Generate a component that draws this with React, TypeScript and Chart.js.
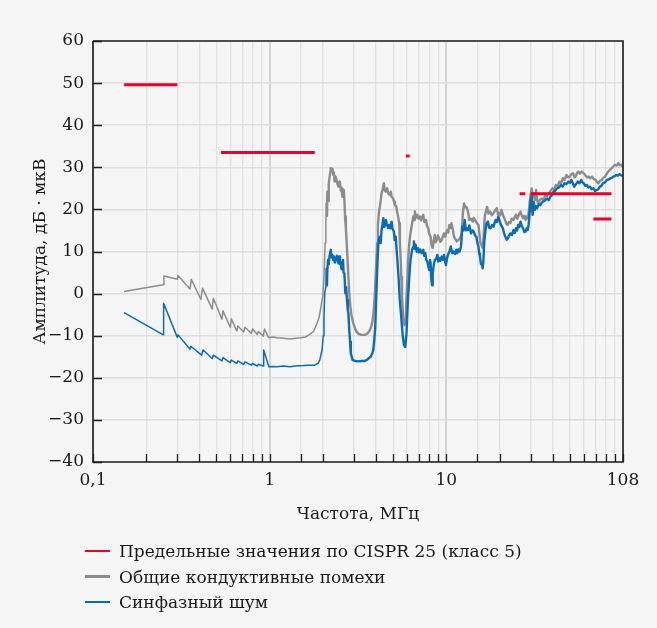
import React, { useEffect, useRef } from "react";
import { Chart, registerables } from "chart.js";

Chart.register(...registerables);

// ---- Data ----
const xTickLabels: Record<string, string> = { "0.1": "0,1", "1": "1", "10": "10", "100": "108" };
const yTicksMin = -40;
const yTicksMax = 60;

const limitStart = [0.15, 0.53, 5.9, 26, 30, 68];
const limitEnd = [0.3, 1.8, 6.2, 28, 86, 86];
const limitLevel = [49.6, 33.5, 32.7, 23.7, 23.7, 17.7];

const grayFreq = [
  0.15, 0.25, 0.252, 0.3, 0.303, 0.354, 0.36, 0.408, 0.417, 0.473, 0.48, 0.537, 0.544, 0.598, 0.607, 0.651, 0.66,
  0.713, 0.725, 0.787, 0.8, 0.851, 0.862, 0.92, 0.935, 0.985, 1.05, 1.1, 1.2, 1.3, 1.4, 1.5, 1.6, 1.69, 1.77, 1.845,
  1.9, 1.945, 2.0, 2.03, 2.06, 2.08, 2.1, 2.11, 2.12, 2.14, 2.16, 2.19, 2.22, 2.25, 2.27, 2.29, 2.31, 2.33, 2.36,
  2.39, 2.42, 2.45, 2.48, 2.5, 2.53, 2.55, 2.58, 2.6, 2.63, 2.65, 2.67, 2.7, 2.73, 2.76, 2.79, 2.82, 2.85, 2.9, 2.97,
  3.05, 3.11, 3.2, 3.32, 3.45, 3.54, 3.62, 3.7, 3.77, 3.83, 3.89, 3.94, 4.0, 4.06, 4.1, 4.17, 4.22, 4.3, 4.36, 4.43,
  4.48, 4.55, 4.62, 4.69, 4.78, 4.85, 4.9, 5.0, 5.06, 5.12, 5.2, 5.26, 5.35, 5.41, 5.46, 5.51, 5.56, 5.61, 5.66, 5.7,
  5.76, 5.8, 5.86, 5.91, 5.96, 6.01, 6.08, 6.17, 6.25, 6.33, 6.42, 6.5, 6.57, 6.63, 6.72, 6.85, 6.95, 7.09, 7.2, 7.3,
  7.4, 7.52, 7.67, 7.78, 7.9, 8.0, 8.15, 8.25, 8.37, 8.48, 8.6, 8.7, 8.81, 8.95, 9.11, 9.25, 9.4, 9.55, 9.69, 9.85,
  10.1, 10.25, 10.4, 10.55, 10.7, 10.9, 11.05, 11.2, 11.45, 11.7, 11.95, 12.2, 12.4, 12.6, 12.8, 13.0, 13.25, 13.5,
  13.8, 14.1, 14.3, 14.5, 14.85, 15.2, 15.4, 15.6, 15.85, 16.1, 16.3, 16.5, 16.75, 17.0, 17.35, 17.7, 18.1, 18.5,
  18.9, 19.3, 19.6, 19.9, 20.2, 20.5, 21.0, 21.5, 21.85, 22.2, 22.6, 23.0, 23.5, 24.0, 24.4, 24.8, 25.2, 25.5, 25.9,
  26.3, 26.7, 27.2, 27.6, 28.1, 28.5, 28.9, 29.3, 29.6, 30.0, 30.4, 30.8, 31.2, 31.7, 32.2, 32.7, 33.2, 33.9, 34.7,
  35.5, 36.3, 37.1, 38.0, 38.9, 39.8, 40.7, 41.7, 42.6, 43.6, 44.6, 45.6, 46.7, 47.8, 48.9, 50.0, 51.1, 52.2, 53.1,
  54.0, 54.9, 55.8, 57.1, 58.4, 59.7, 61.0, 62.4, 63.8, 65.3, 66.8, 68.4, 70.0, 71.2, 72.5, 74.1, 75.8, 77.4, 79.0,
  80.7, 82.5, 84.4, 86.3, 88.1, 90.0, 92.0, 94.0, 96.0, 98.0, 100,
];
const grayVals = [
  0.5, 2.1, 4.2, 3.4, 4.3, 1.1, 3.4, -1.4, 1.3, -3.7, -1.1, -6.1, -4.1, -8.0, -6.0, -8.9, -7.7,
  -9.1, -8.0, -9.4, -8.4, -9.7, -9.0, -10.1, -8.4, -10.4, -10.3, -10.5, -10.6, -10.8, -10.6, -10.5, -10.3, -9.6, -9.0, -7.3,
  -5.8, -3.5, -0.5, 4.0, 12.0, 17.0, 21.5, 18.5, 24.2, 22.0, 26.2, 28.0, 29.8, 29.0, 29.6, 28.2, 28.8, 26.6, 27.8,
  27.0, 26.0, 25.4, 26.6, 26.2, 24.4, 25.2, 23.0, 24.8, 24.6, 22.0, 18.3, 15.5, 12.0, 8.0, 4.0, 0.5, -2.3, -5.0, -7.0,
  -8.4, -9.1, -9.6, -9.8, -9.8, -9.6, -9.2, -8.6, -7.6, -6.3, -3.5, 0.1, 6.0, 12.0, 16.5, 19.9, 21.0, 23.8, 24.8, 26.2,
  24.5, 24.2, 25.0, 23.8, 23.4, 24.2, 23.0, 22.6, 21.8, 21.0, 20.8, 19.5, 18.0, 16.7, 12.0, 8.8, 4.0, -0.7, -3.5, -5.5,
  -7.0, -7.5, -6.0, -3.9, 0.0, 3.2, 8.0, 12.0, 14.0, 15.5, 17.0, 18.3, 17.5, 19.5, 18.0, 18.7, 17.8, 18.3, 17.4, 18.2,
  18.7, 17.0, 17.5, 16.0, 15.5, 14.2, 13.5, 11.5, 10.8, 12.5, 13.9, 12.2, 12.7, 13.8, 13.1, 12.3, 12.7, 13.6, 14.3, 13.5,
  15.1, 14.5, 16.3, 15.6, 16.7, 15.0, 13.5, 13.1, 12.4, 12.7, 13.2, 13.9, 19.1, 21.4, 20.5, 20.6, 19.5, 17.5,
  17.8, 17.1, 18.0, 17.5, 16.8, 16.3, 14.0, 12.0, 11.5, 10.8, 14.5, 18.3, 19.5, 20.6, 19.0, 19.5, 18.6, 19.1,
  19.8, 20.3, 18.8, 19.1, 18.6, 19.9, 18.5, 17.5, 16.6, 16.3, 17.0, 16.7, 17.8, 17.5, 18.2, 18.7, 17.8, 18.3, 19.0,
  19.5, 18.5, 17.9, 18.5, 17.5, 18.3, 17.9, 19.5, 21.5, 23.5, 25.0, 23.0, 23.8, 22.2, 24.6, 22.0, 21.5, 22.3, 22.6,
  22.2, 23.4, 23.2, 23.8, 24.4, 25.0, 24.6, 25.8, 25.4, 26.6, 26.2, 27.4, 27.0, 28.2, 27.6, 27.8, 28.4, 28.6, 27.6,
  27.8, 28.6, 29.0, 28.5, 29.0, 28.6, 28.2, 27.6, 27.8, 27.4, 27.8, 27.2, 27.0, 26.5, 26.2, 26.8, 27.0, 27.5, 27.8,
  28.4, 29.0, 29.4, 29.8, 30.2, 30.6, 30.4, 31.0, 30.5, 30.6, 30.0,
];

const blueFreq = [
  0.15, 0.25, 0.251, 0.3, 0.303, 0.354, 0.358, 0.412, 0.42, 0.473, 0.48, 0.537, 0.544, 0.598, 0.607, 0.651, 0.66,
  0.713, 0.725, 0.787, 0.8, 0.851, 0.862, 0.92, 0.925, 0.99, 1.05, 1.1, 1.2, 1.3, 1.4, 1.55, 1.65, 1.8, 1.88, 1.92,
  1.98, 2.01, 2.03, 2.05, 2.08, 2.1, 2.11, 2.12, 2.14, 2.16, 2.18, 2.22, 2.24, 2.26, 2.29, 2.31, 2.34, 2.37, 2.4, 2.42,
  2.45, 2.47, 2.5, 2.52, 2.55, 2.57, 2.6, 2.62, 2.65, 2.68, 2.71, 2.74, 2.77, 2.79, 2.82, 2.85, 2.88, 2.95, 3.05, 3.2,
  3.32, 3.45, 3.54, 3.65, 3.73, 3.81, 3.86, 3.91, 3.96, 4.01, 4.06, 4.13, 4.2, 4.25, 4.3, 4.35, 4.4, 4.45, 4.5, 4.55,
  4.6, 4.68, 4.75, 4.82, 4.9, 4.95, 5.05, 5.1, 5.17, 5.23, 5.3, 5.38, 5.45, 5.53, 5.61, 5.68, 5.76, 5.85, 5.95, 6.05,
  6.12, 6.17, 6.27, 6.4, 6.48, 6.55, 6.62, 6.7, 6.8, 6.9, 7.0, 7.1, 7.25, 7.4, 7.5, 7.6, 7.7, 7.8, 7.9, 8.0, 8.08,
  8.15, 8.22, 8.3, 8.35, 8.4, 8.5, 8.6, 8.75, 8.9, 9.0, 9.1, 9.25, 9.4, 9.55, 9.7, 9.85, 9.95, 10.1, 10.3, 10.45,
  10.6, 10.8, 11.0, 11.2, 11.4, 11.55, 11.7, 11.9, 12.1, 12.2, 12.3, 12.5, 12.7, 12.9, 13.1, 13.3, 13.5, 13.8, 14.05,
  14.3, 14.55, 14.8, 15.0, 15.2, 15.35, 15.5, 15.7, 15.9, 16.05, 16.2, 16.4, 16.65, 16.9, 17.2, 17.5, 17.8, 18.15,
  18.5, 18.75, 19.0, 19.35, 19.7, 19.95, 20.2, 20.55, 20.9, 21.25, 21.6, 21.95, 22.3, 22.65, 23.0, 23.5, 24.0, 24.4,
  24.8, 25.15, 25.5, 25.9, 26.3, 26.75, 27.2, 27.65, 28.1, 28.5, 28.9, 29.25, 29.6, 30.0, 30.4, 30.6, 30.8, 31.2,
  31.7, 32.2, 32.7, 33.3, 34.0, 34.7, 35.4, 36.3, 37.2, 38.0, 38.8, 39.6, 40.4, 41.3, 42.3, 43.4, 44.6, 45.6, 46.6,
  47.8, 49.0, 50.0, 51.0, 52.0, 53.0, 54.2, 55.5, 56.7, 58.0, 59.0, 60.0, 61.2, 62.5, 63.7, 65.0, 66.5, 68.0, 69.5,
  71.0, 72.5, 74.0, 75.5, 77.0, 79.0, 81.0, 83.0, 85.0, 86.5, 88.0, 89.8, 91.5, 93.5, 95.5, 97.5, 100,
];
const blueVals = [
  -4.5, -9.8, -2.3, -10.4, -9.8, -13.2, -12.5, -14.6, -13.4, -15.4, -14.6, -16.0, -15.2, -16.4, -15.8, -16.6, -16.0,
  -16.8, -16.2, -17.0, -16.6, -17.2, -16.8, -17.2, -13.4, -17.4, -17.3, -17.4, -17.2, -17.4, -17.2, -17.1, -17.0, -17.0, -16.5, -15.8,
  -13.4, -10.0, -5.5, 0.1, 1.6, 6.0, 2.0, 5.6, 8.0, 7.0, 8.8, 10.4, 8.6, 9.2, 8.0, 8.8, 7.4, 8.0, 9.0, 8.4,
  7.2, 8.8, 7.0, 7.6, 5.8, 6.8, 8.0, 5.0, 4.8, 0.1, 1.5, -1.5, -4.0, -4.7, -8.5, -11.4, -14.2, -15.8, -16.0, -16.1,
  -16.0, -16.0, -15.8, -15.3, -15.0, -14.2, -13.4, -11.0, -7.9, -1.0, 5.6, 12.7, 13.5, 12.0, 15.1, 16.5, 17.9, 15.8, 16.3, 17.5,
  16.7, 15.6, 16.3, 15.5, 17.1, 15.5, 14.7, 12.7, 13.5, 10.4, 7.2, 3.0, -1.5, -4.5, -7.9, -10.5, -12.2, -12.7, -9.4, -2.3,
  1.5, 4.0, 8.0, 10.4, 11.0, 12.4, 10.6, 11.6, 10.0, 10.8, 9.8, 10.5, 9.6, 10.4, 9.0, 9.6, 8.0, 7.6, 6.5, 5.6, 8.0,
  7.2, 3.5, 2.0, 4.5, 4.8, 7.0, 8.0, 8.2, 9.2, 7.6, 8.4, 7.8, 8.8, 8.0, 9.2, 7.5, 6.8, 8.5, 9.6, 10.2,
  11.2, 9.6, 10.0, 9.4, 10.4, 9.6, 10.5, 10.0, 11.2, 13.0, 15.9, 15.0, 17.5, 15.0, 15.5, 15.1, 16.2, 14.3, 15.0,
  14.7, 13.8, 13.5, 12.0, 11.2, 9.5, 8.8, 7.0, 7.2, 6.0, 7.6, 12.4, 15.0, 16.7, 17.1, 15.6, 15.5, 16.3,
  15.9, 16.8, 17.5, 17.0, 18.3, 17.5, 16.7, 16.0, 15.5, 14.2, 13.5, 12.8, 13.1, 13.8, 14.3, 13.9, 15.1, 14.4,
  15.5, 15.0, 16.3, 15.8, 17.1, 16.0, 15.5, 14.6, 14.7, 15.5, 15.1, 16.5, 19.1, 22.0, 23.4, 20.0, 18.7, 21.8,
  19.9, 20.8, 20.3, 21.2, 21.0, 21.6, 21.9, 22.2, 22.6, 22.2, 23.0, 23.4, 24.2, 24.4, 25.0, 25.2, 25.8, 25.4, 26.2,
  26.0, 26.6, 26.3, 27.0, 26.2, 25.4, 26.0, 26.6, 26.2, 27.0, 26.4, 26.2, 25.6, 25.8, 25.2, 25.4, 24.8, 25.0, 24.4,
  24.6, 24.8, 25.4, 25.6, 26.2, 26.4, 27.0, 27.1, 27.4, 27.5, 27.8, 27.9, 28.2, 28.0, 28.4, 28.1, 28.0,
];

const seriesNames = [
  "Предельные значения по CISPR 25 (класс 5)",
  "Общие кондуктивные помехи",
  "Синфазный шум",
];
const seriesColors = ["#e4032e", "#8c8c8c", "#0b6cb5"];

const FONT = '"DejaVu Serif", serif';

const isPow10 = (v: number) => {
  const l = Math.log10(v);
  return Math.abs(l - Math.round(l)) < 1e-6;
};

// thin line for the smooth low-frequency part, thicker for the noisy part
const noisyWidth = (c: any) => (c.p0 && c.p0.parsed.x >= 2.1 ? 2.4 : 1.5);

const frameAndTicks = {
  id: "frameAndTicks",
  afterDatasetsDraw(chart: any) {
    const { ctx, chartArea } = chart;
    const { left, right, top, bottom } = chartArea;
    const xs = chart.scales.x;
    const ys = chart.scales.y;
    ctx.save();
    ctx.strokeStyle = "#1e1e1e";
    ctx.lineWidth = 1.3;
    ctx.beginPath();
    for (const t of xs.ticks) {
      const px = Math.round(xs.getPixelForValue(t.value)) + 0.5;
      ctx.moveTo(px, bottom);
      ctx.lineTo(px, bottom - 8);
    }
    for (const t of ys.ticks) {
      const py = Math.round(ys.getPixelForValue(t.value)) + 0.5;
      ctx.moveTo(left, py);
      ctx.lineTo(left + 9, py);
    }
    ctx.stroke();
    ctx.lineWidth = 1.6;
    ctx.strokeStyle = "#1e1e1e";
    ctx.beginPath();
    ctx.moveTo(left, top);
    ctx.lineTo(right, top);
    ctx.lineTo(right, bottom);
    ctx.lineTo(left, bottom);
    ctx.lineTo(left, top);
    ctx.stroke();
    ctx.restore();
  },
};

export default function App() {
  const ref = useRef<HTMLCanvasElement | null>(null);

  useEffect(() => {
    document.body.style.margin = "0";
    document.body.style.background = "#f5f5f5";
    if (!ref.current) return;

    const limitData: any[] = [];
    limitStart.forEach((s, i) => {
      if (i > 0) limitData.push({ x: s, y: null });
      limitData.push({ x: s, y: limitLevel[i] });
      limitData.push({ x: limitEnd[i], y: limitLevel[i] });
    });
    const grayData = grayFreq.map((f, i) => ({ x: f, y: grayVals[i] }));
    const blueData = blueFreq.map((f, i) => ({ x: f, y: blueVals[i] }));

    const chart = new Chart(ref.current, {
      type: "line",
      data: {
        datasets: [
          {
            label: seriesNames[0],
            data: limitData,
            borderColor: seriesColors[0],
            borderWidth: 3,
            borderCapStyle: "butt",
            pointRadius: 0,
            spanGaps: false,
            order: 0,
          },
          {
            label: seriesNames[1],
            data: grayData,
            borderColor: seriesColors[1],
            borderWidth: 1.5,
            borderJoinStyle: "round",
            pointRadius: 0,
            segment: { borderWidth: noisyWidth },
            order: 2,
          },
          {
            label: seriesNames[2],
            data: blueData,
            borderColor: seriesColors[2],
            borderWidth: 1.5,
            borderJoinStyle: "round",
            pointRadius: 0,
            segment: { borderWidth: noisyWidth },
            order: 1,
          },
        ],
      },
      options: {
        animation: false,
        responsive: false,
        devicePixelRatio: 1,
        layout: { padding: { top: 41, right: 34, bottom: 98, left: 0 } },
        plugins: { legend: { display: false }, tooltip: { enabled: false } },
        scales: {
          x: {
            type: "logarithmic",
            min: 0.1,
            max: 100,
            afterFit: (s: any) => {
              s.height = 68;
            },
            border: { display: false },
            grid: {
              drawTicks: false,
              color: (c: any) => (c.tick && isPow10(c.tick.value) ? "#d2d2d2" : "#e1e1e1"),
              lineWidth: (c: any) => (c.tick && isPow10(c.tick.value) ? 2 : 1.3),
            },
            ticks: {
              autoSkip: false,
              maxRotation: 0,
              padding: 8,
              color: "#1a1a1a",
              font: { family: FONT, size: 17 },
              callback: (v: any) => {
                const n = Number(v);
                if (!isPow10(n)) return "";
                const e = Math.round(Math.log10(n));
                const key = e === -1 ? "0.1" : String(Math.pow(10, e));
                return xTickLabels[key] ?? "";
              },
            },
            title: {
              display: true,
              text: "Частота, МГц",
              color: "#1a1a1a",
              font: { family: FONT, size: 17 },
              padding: { top: 0, bottom: 5 },
            },
          },
          y: {
            type: "linear",
            min: yTicksMin,
            max: yTicksMax,
            afterFit: (s: any) => {
              s.width = 93;
            },
            border: { display: false },
            grid: { drawTicks: false, color: "#dedede", lineWidth: 1.5 },
            ticks: {
              stepSize: 10,
              padding: 9,
              color: "#1a1a1a",
              font: { family: FONT, size: 17 },
              callback: (v: any) => (Number(v) < 0 ? "\u2212" + Math.abs(Number(v)) : String(v)),
            },
            title: {
              display: true,
              text: "Амплитуда, дБ · мкВ",
              color: "#1a1a1a",
              font: { family: FONT, size: 17 },
              padding: { top: 30, bottom: 0 },
            },
          },
        },
      },
      plugins: [frameAndTicks],
    });
    return () => chart.destroy();
  }, []);

  return (
    <div style={{ position: "relative", width: 657, height: 628, background: "#f5f5f5", fontFamily: FONT }}>
      <canvas ref={ref} width={657} height={628} style={{ width: 657, height: 628, display: "block" }} />
      {seriesNames.map((name, i) => (
        <div
          key={name}
          style={{
            position: "absolute",
            left: 85,
            top: 538 + i * 25.5,
            height: 26,
            display: "flex",
            alignItems: "center",
            fontSize: 17,
            color: "#1a1a1a",
            whiteSpace: "nowrap",
          }}
        >
          <span style={{ display: "inline-block", width: 25, height: 2.5, background: seriesColors[i], marginRight: 9 }} />
          <span>{name}</span>
        </div>
      ))}
    </div>
  );
}
